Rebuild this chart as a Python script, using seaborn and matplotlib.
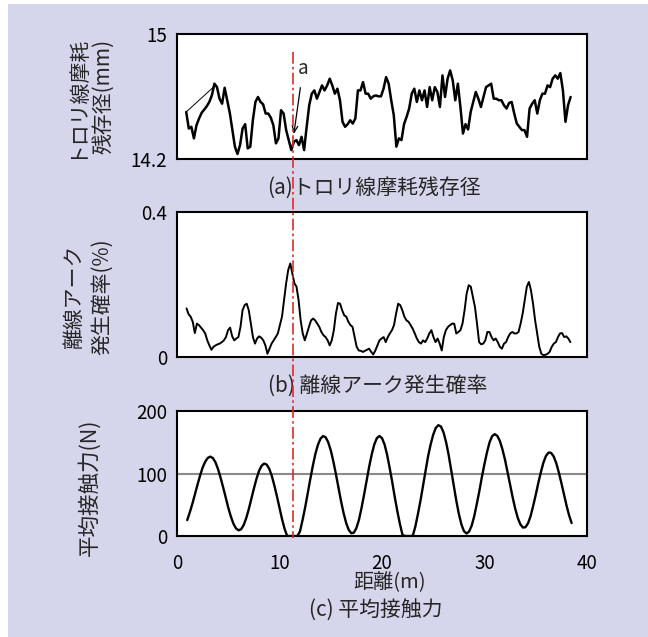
import numpy as np
import pandas as pd
import matplotlib
import matplotlib.pyplot as plt
import matplotlib.transforms as mtransforms
from matplotlib.lines import Line2D
from matplotlib.patches import Rectangle
import seaborn as sns

# (a) remaining trolley wire diameter (mm), sampled every 0.25 m from 0.9 m
wire_diam = [14.501, 14.395, 14.406, 14.332, 14.416, 14.459, 14.495, 14.516, 14.537, 14.565,
             14.607, 14.682, 14.660, 14.586, 14.554, 14.656, 14.576, 14.495, 14.385, 14.279,
             14.232, 14.289, 14.395, 14.423, 14.268, 14.279, 14.448, 14.565, 14.597, 14.565,
             14.550, 14.491, 14.491, 14.465, 14.416, 14.300, 14.332, 14.512, 14.491, 14.385,
             14.321, 14.257, 14.310, 14.321, 14.289, 14.342, 14.257, 14.406, 14.544, 14.618,
             14.639, 14.586, 14.629, 14.671, 14.639, 14.671, 14.714, 14.671, 14.618, 14.650,
             14.576, 14.438, 14.406, 14.423, 14.448, 14.427, 14.459, 14.639, 14.639, 14.692,
             14.618, 14.618, 14.586, 14.601, 14.607, 14.601, 14.601, 14.650, 14.724, 14.682,
             14.576, 14.480, 14.279, 14.332, 14.321, 14.423, 14.470, 14.523, 14.618, 14.650,
             14.565, 14.639, 14.576, 14.639, 14.533, 14.660, 14.576, 14.660, 14.629, 14.533,
             14.735, 14.597, 14.714, 14.767, 14.703, 14.576, 14.682, 14.533, 14.363, 14.423,
             14.389, 14.501, 14.565, 14.629, 14.586, 14.533, 14.597, 14.660, 14.671, 14.682,
             14.586, 14.586, 14.576, 14.576, 14.544, 14.523, 14.559, 14.565, 14.491, 14.427,
             14.406, 14.385, 14.385, 14.342, 14.523, 14.554, 14.576, 14.491, 14.576, 14.618,
             14.618, 14.671, 14.660, 14.714, 14.735, 14.714, 14.750, 14.639, 14.438, 14.544,
             14.597]
dist_a = np.linspace(0.9, 38.4, len(wire_diam))
# straight connector drawn at the start of the record
jump_x = [0.9, 3.55]
jump_y = [14.501, 14.66]

# (b) contact-loss arc probability (%)
arc_rate = [0.134, 0.118, 0.111, 0.097, 0.066, 0.092, 0.088, 0.081, 0.074, 0.065,
            0.046, 0.032, 0.020, 0.028, 0.032, 0.035, 0.037, 0.041, 0.046, 0.055,
            0.074, 0.081, 0.057, 0.046, 0.051, 0.055, 0.083, 0.129, 0.143, 0.147,
            0.129, 0.092, 0.055, 0.037, 0.051, 0.057, 0.053, 0.046, 0.032, 0.009,
            0.023, 0.037, 0.046, 0.055, 0.065, 0.088, 0.111, 0.157, 0.203, 0.240,
            0.258, 0.230, 0.203, 0.194, 0.157, 0.101, 0.065, 0.046, 0.065, 0.083,
            0.101, 0.106, 0.101, 0.092, 0.083, 0.069, 0.060, 0.055, 0.046, 0.032,
            0.046, 0.074, 0.120, 0.149, 0.147, 0.129, 0.115, 0.111, 0.097, 0.088,
            0.083, 0.055, 0.028, 0.018, 0.017, 0.014, 0.017, 0.020, 0.023, 0.014,
            0.007, 0.018, 0.032, 0.046, 0.051, 0.055, 0.041, 0.055, 0.065, 0.074,
            0.088, 0.120, 0.147, 0.143, 0.129, 0.111, 0.101, 0.097, 0.088, 0.078,
            0.065, 0.051, 0.041, 0.037, 0.046, 0.041, 0.051, 0.065, 0.074, 0.055,
            0.041, 0.051, 0.037, 0.018, 0.055, 0.074, 0.083, 0.088, 0.092, 0.092,
            0.065, 0.069, 0.074, 0.092, 0.129, 0.175, 0.198, 0.194, 0.166, 0.138,
            0.092, 0.041, 0.035, 0.037, 0.046, 0.069, 0.069, 0.055, 0.046, 0.051,
            0.041, 0.028, 0.023, 0.037, 0.041, 0.055, 0.065, 0.069, 0.065, 0.065,
            0.069, 0.092, 0.120, 0.157, 0.194, 0.207, 0.184, 0.147, 0.101, 0.065,
            0.028, 0.009, 0.005, 0.006, 0.009, 0.014, 0.028, 0.037, 0.041, 0.055,
            0.065, 0.066, 0.055, 0.057, 0.051, 0.041]
dist_b = np.linspace(0.93, 38.38, len(arc_rate))

# (c) mean contact force (N), every 0.25 m from 1.0 m
contact_force = [25.5, 38, 51.5, 67, 82, 96.6, 109.5, 118.8, 124.9, 127,
                 124.7, 118, 107.2, 93.4, 78, 61.4, 45.5, 31.4, 19.9, 12.3,
                 9.1, 10.7, 17.3, 28.4, 42.8, 59.2, 75.8, 91.2, 103.9, 112.3,
                 115.9, 114.3, 107.5, 96.1, 80.6, 63.5, 45, 26.8, 11.2, 0,
                 0, 0, 0, 0, 7.4, 25.6, 45.4, 68, 90.7, 112.2,
                 131.3, 146, 155.8, 159.9, 158, 150.2, 137.2, 119.6, 99.3, 77.6,
                 56.1, 36.8, 21, 9.9, 4.5, 5.2, 12.6, 25.8, 44.6, 66,
                 88.9, 111, 130.7, 146.6, 156.6, 160, 156.6, 146.4, 129.9, 108.7,
                 86.2, 61.8, 39.3, 19, 1.8, 0, 0, 0, 0.3, 14.9,
                 34.8, 56.2, 80.3, 104.5, 127.9, 146.8, 162.3, 173, 177.3, 175.2,
                 165.9, 150.3, 130, 105.8, 80.7, 56.4, 35.2, 18.4, 7.6, 4,
                 7.2, 16.6, 31.8, 51.4, 72.2, 94.8, 115.6, 134.4, 150.3, 159.8,
                 163, 160.2, 152, 138.7, 122.2, 102.3, 81.9, 61.6, 43.5, 28.8,
                 18.6, 13.5, 14.1, 20.5, 32, 48.3, 65.9, 84.9, 102.2, 117.5,
                 128.2, 133.5, 133, 127.2, 116.6, 101.8, 84.8, 66.5, 49, 33.3,
                 20.7]
dist_c = np.linspace(1.0, 38.5, len(contact_force))

peak_pos = 11.35  # position of point a / arc peak (m)

BG = '#D5D6EB'

sns.set_theme(style='white')
plt.rcParams['font.family'] = ['Noto Sans CJK JP', 'DejaVu Sans']
plt.rcParams['axes.unicode_minus'] = False

W, H = 648, 637
fig = plt.figure(figsize=(W / 100, H / 100), dpi=100, facecolor='white')
fig.add_artist(Rectangle((8 / W, 0), 1, 1 - 4 / H, transform=fig.transFigure,
                         facecolor=BG, edgecolor='none', zorder=-10))

ax1 = fig.add_axes([177 / W, 1 - 159 / H, 410 / W, 125 / H])
ax2 = fig.add_axes([177 / W, 1 - 357 / H, 410 / W, 145 / H])
ax3 = fig.add_axes([177 / W, 1 - 536 / H, 410 / W, 125 / H])

for ax in (ax1, ax2, ax3):
    ax.set_facecolor('white')
    ax.set_xlim(0, 40)
    for sp in ax.spines.values():
        sp.set_color('black')
        sp.set_linewidth(1.5)
    ax.tick_params(length=0, labelsize=13.5, colors='black')
    ax.tick_params(axis='y', pad=7)

sns.lineplot(x=dist_a, y=wire_diam, ax=ax1, color='black', linewidth=1.8)
ax1.plot(jump_x, jump_y, color='black', linewidth=0.7)
ax1.set_ylim(14.2, 15)
ax1.set_yticks([14.2, 15])
ax1.set_yticklabels(['14.2', '15'])
ax1.set_xticks([])
ax1.annotate('a', xy=(11.4, 14.36), xytext=(12.3, 14.78), fontsize=13.5,
             ha='center', va='center',
             arrowprops=dict(arrowstyle='->,head_length=0.35,head_width=0.15',
                             color='black', lw=0.9, shrinkA=4, shrinkB=0))

sns.lineplot(x=dist_b, y=arc_rate, ax=ax2, color='black', linewidth=1.4)
ax2.set_ylim(0, 0.4)
ax2.set_yticks([0, 0.4])
ax2.set_yticklabels(['0', '0.4'])
ax2.set_xticks([])

ax3.axhline(100, color='#8a8a8a', linewidth=1.5, zorder=1)
sns.lineplot(x=dist_c, y=contact_force, ax=ax3, color='black', linewidth=1.7)
ax3.set_ylim(0, 200)
ax3.set_yticks([0, 100, 200])
ax3.set_xticks([0, 10, 20, 30, 40])
ax3.tick_params(axis='x', pad=12)

for ax in (ax1, ax2, ax3):
    ax.set_xlabel('')
    ax.set_ylabel('')

# red dash-dot marker through all panels
trans = mtransforms.blended_transform_factory(ax3.transData, fig.transFigure)
fig.add_artist(Line2D([peak_pos, peak_pos], [1 - 52 / H, 1 - 538 / H], transform=trans,
                      color='#E02A2A', linewidth=1.2, dashes=(7, 2, 1.5, 2), zorder=5))

# labels and captions
fig.text(89 / W, 1 - 96 / H, 'トロリ線摩耗\n残存径(mm)', rotation=90, ha='center', va='center',
         fontsize=15, multialignment='center', linespacing=1.35)
fig.text(88 / W, 1 - 297 / H, '離線アーク\n発生確率(%)', rotation=90, ha='center', va='center',
         fontsize=15, multialignment='center', linespacing=1.35)
fig.text(89 / W, 1 - 487 / H, '平均接触力(N)', rotation=90, ha='center', va='center', fontsize=15.5)
fig.text(374 / W, 1 - 188 / H, '(a)トロリ線摩耗残存径', ha='center', va='center', fontsize=15)
fig.text(378 / W, 1 - 386 / H, '(b) 離線アーク発生確率', ha='center', va='center', fontsize=15)
fig.text(390 / W, 1 - 583 / H, '距離(m)', ha='center', va='center', fontsize=14.5)
fig.text(376 / W, 1 - 611 / H, '(c) 平均接触力', ha='center', va='center', fontsize=15)

fig.savefig('out.png', dpi=100, facecolor=fig.get_facecolor())
